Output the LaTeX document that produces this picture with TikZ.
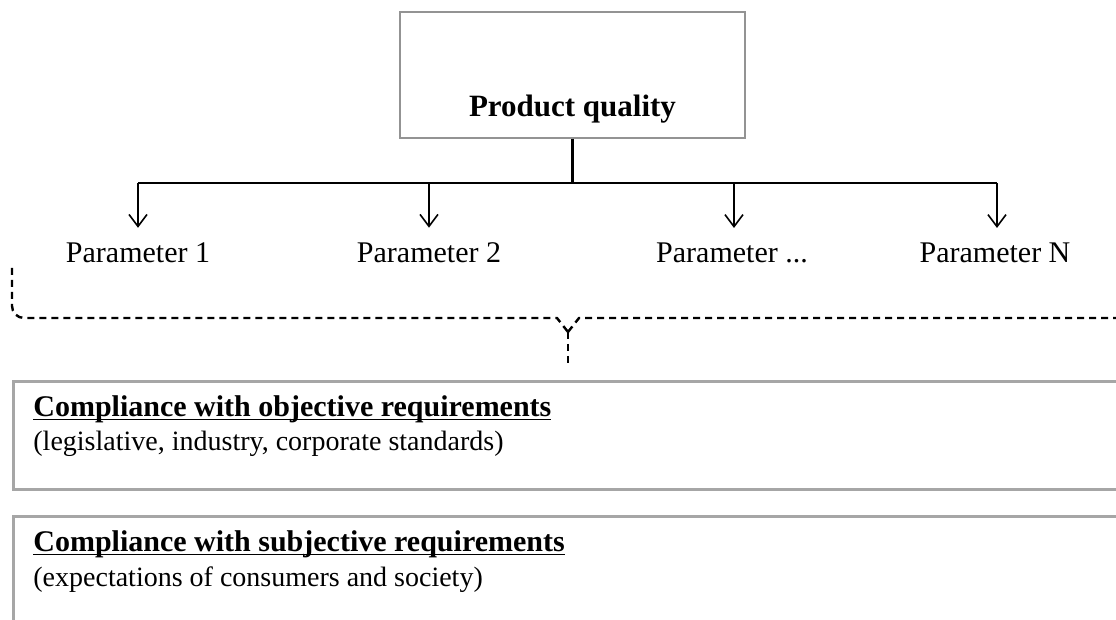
\documentclass[tikz,border=0pt]{standalone}
\usepackage{fontspec}
\setmainfont{Liberation Serif}
\usepackage{tikz}
\usetikzlibrary{arrows.meta}

\newcommand{\ulhead}[1]{\underline{\smash{\textbf{#1}}}}

\begin{document}
\begin{tikzpicture}[x=0.5pt,y=-0.5pt,
    txt/.style={inner sep=0pt,font=\fontsize{15}{18}\selectfont},
    small/.style={inner sep=0pt,font=\fontsize{14}{17}\selectfont},
    arr/.style={-{Straight Barb[length=6pt,width=9pt]},line width=0.8pt,shorten >=7.5pt},
    bus/.style={line width=1.2pt},
    brace/.style={dash pattern=on 3.5pt off 2.5pt,line width=1.2pt},
    req/.style={draw=gray!70,line width=1.3pt,minimum width=559pt,anchor=north west,inner sep=0pt}]
  \useasboundingbox (0,0) rectangle (1116,620);

  \node[draw=gray!85,line width=0.6pt,minimum width=172.5pt,minimum height=63pt,inner sep=0pt,
    text height=52.5pt,text depth=10.5pt,font=\bfseries\fontsize{15.5}{18}\selectfont]
    (q) at (572.5,75) {Product quality};

  \coordinate (j) at (572.5,183);
  \coordinate (b1) at (138,183);
  \coordinate (b2) at (429,183);
  \coordinate (b3) at (734,183);
  \coordinate (b4) at (997,183);
  \draw[bus] (q.south) -- (j);
  \draw[bus] (b1) -- (b4);

  \node[txt,anchor=base] (p1) at (138,263) {Parameter 1};
  \node[txt,anchor=base] (p2) at (429,263) {Parameter 2};
  \node[txt,anchor=base] (p3) at (732,263) {Parameter ...};
  \node[txt,anchor=base] (p4) at (995,263) {Parameter N};
  \draw[arr] (b1) -- (b1 |- p1.north);
  \draw[arr] (b2) -- (b2 |- p2.north);
  \draw[arr] (b3) -- (b3 |- p3.north);
  \draw[arr] (b4) -- (b4 |- p4.north);

  % requirement boxes
  \node[req,minimum height=54pt] (o) at (12,380) {};
  \node[req,minimum height=70pt] (s) at (12,515) {};
  \node[txt,anchor=base west] (oh) at (33,417) {\ulhead{Compliance with objective requirements}};
  \node[small,anchor=base west] (ot) at (33,451) {(legislative, industry, corporate standards)};
  \node[txt,anchor=base west] (sh) at (33,552) {\ulhead{Compliance with subjective requirements}};
  \node[small,anchor=base west] (st) at (33,587) {(expectations of consumers and society)};

  % dashed brace
  \coordinate (t) at (568,332);
  \draw[brace] (12,268) -- (12,306) to[out=-90,in=180] (24,318) -- (557,318) -- (t);
  \draw[brace] (t) -- (579,318) -- (1124,318);
  \draw[brace,shorten >=6pt] (t) -- (t |- o.north);
\end{tikzpicture}
\end{document}
